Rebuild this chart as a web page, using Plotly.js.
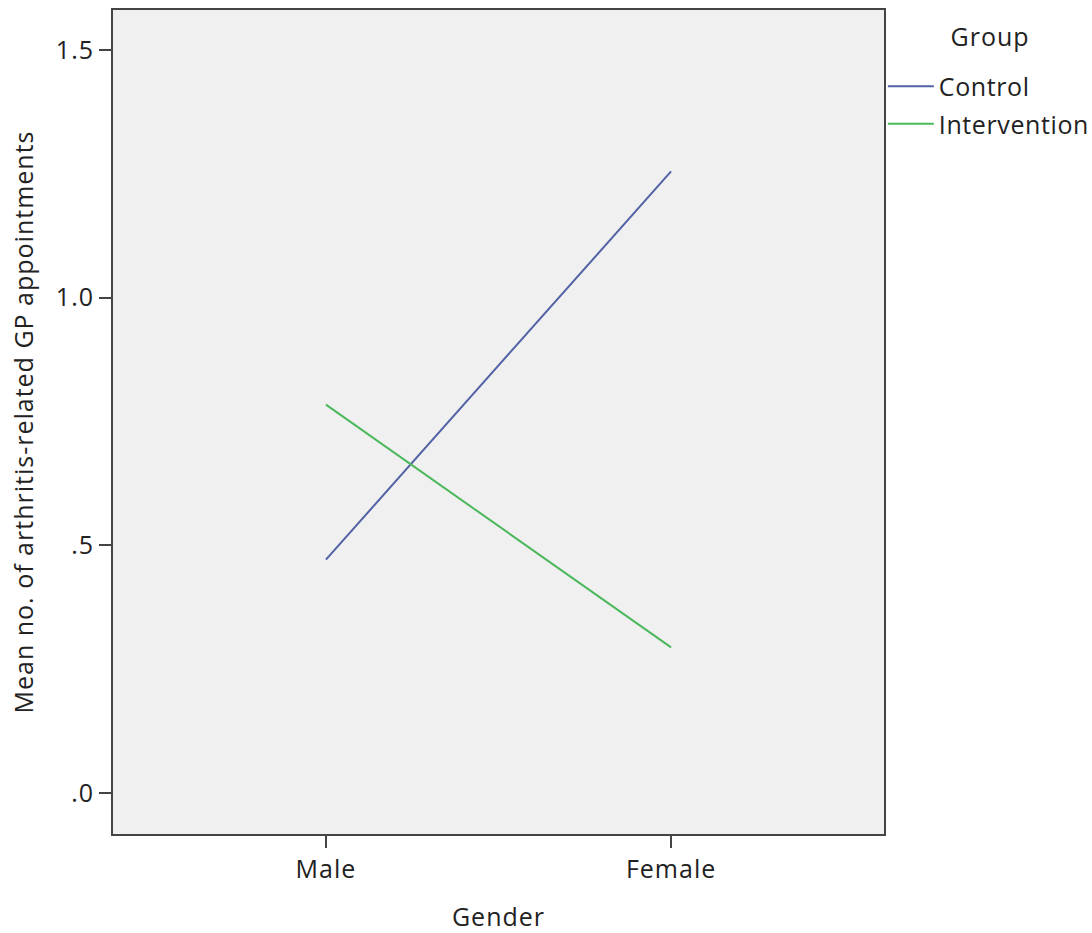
<!DOCTYPE html>
<html>
<head>
<meta charset="utf-8">
<script src="https://cdn.plot.ly/plotly-3.0.1.min.js"></script>
<style>
html,body{margin:0;padding:0;background:#fff;}
#chart{width:1092px;height:933px;}
#chart text{letter-spacing:1px;}
#chart .legend text{letter-spacing:0.6px;}
</style>
</head>
<body>
<div id="chart"></div>
<script>
const categories = ["Male", "Female"];
const controlValues = [0.471, 1.255];
const interventionValues = [0.784, 0.294];
const yTickVals = [0, 0.5, 1.0, 1.5];
const yTickText = [".0", ".5", "1.0", "1.5"];

const FONT = "Open Sans, Noto Sans, sans-serif";
const FS = 25;
const TXT = "#222";

const traces = [
  {x: categories, y: controlValues, name: "Control", type: "scatter", mode: "lines",
   legendgroup: "g1", line: {color: "#5262a6", width: 2}},
  {x: categories, y: interventionValues, name: "Intervention", type: "scatter", mode: "lines",
   legendgroup: "g2", line: {color: "#4cb85c", width: 2}}
];

const layout = {
  width: 1092, height: 933,
  margin: {l: 113, r: 208, t: 10, b: 99, autoexpand: false},
  paper_bgcolor: "#ffffff",
  plot_bgcolor: "#f0f0f0",
  font: {family: FONT, size: FS, color: TXT},
  showlegend: true,
  legend: {
    x: 0.9985, xanchor: "left", y: 0.935, yanchor: "top",
    font: {family: FONT, size: FS, color: TXT},
    bgcolor: "rgba(0,0,0,0)", itemwidth: 46, tracegroupgap: 2
  },
  annotations: [{
    text: "Group", xref: "paper", yref: "paper",
    x: 1.137, y: 0.968, xanchor: "center", yanchor: "middle",
    showarrow: false, font: {family: FONT, size: FS, color: TXT}
  }],
  xaxis: {
    type: "category",
    range: [-0.617, 1.617],
    showgrid: false, zeroline: false,
    showline: true, linecolor: "#444", linewidth: 2, mirror: true,
    ticks: "outside", ticklen: 12, tickwidth: 2, tickcolor: "#444",
    tickfont: {family: FONT, size: FS, color: TXT},
    title: {text: "Gender", font: {family: FONT, size: FS, color: TXT}, standoff: 28}
  },
  yaxis: {
    range: [-0.083, 1.581],
    tickvals: yTickVals, ticktext: yTickText,
    showgrid: false, zeroline: false,
    showline: true, linecolor: "#444", linewidth: 2, mirror: true,
    ticks: "outside", ticklen: 12, tickwidth: 2, tickcolor: "#444",
    tickfont: {family: FONT, size: FS, color: TXT},
    title: {text: "Mean no. of arthritis-related GP appointments", font: {family: FONT, size: FS, color: TXT}, standoff: 18}
  }
};

Plotly.newPlot("chart", traces, layout, {displayModeBar: false, staticPlot: true});
</script>
</body>
</html>
